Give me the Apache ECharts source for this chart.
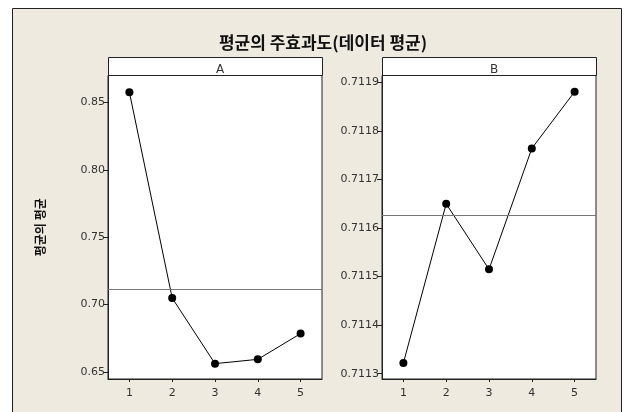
<!DOCTYPE html>
<html>
<head>
<meta charset="utf-8">
<script src="https://cdn.jsdelivr.net/npm/echarts@6/dist/echarts.min.js"></script>
<style>
html,body{margin:0;padding:0;background:#fff;}
#chart{width:626px;height:412px;}
</style>
</head>
<body>
<div id="chart"></div>
<script>
// ---- data ----
var chartTitle = '평균의 주효과도(데이터 평균)';
var yAxisTitle = '평균의 평균';
var panelNames = ['A', 'B'];
var levels = ['1', '2', '3', '4', '5'];
var meansA = [0.8577, 0.7049, 0.6562, 0.6594, 0.6785];
var meansB = [0.711322, 0.711650, 0.711515, 0.711764, 0.711881];
var grandMean = [0.711627];
var ticksA = [0.65, 0.70, 0.75, 0.80, 0.85];
var ticksB = [0.7113, 0.7114, 0.7115, 0.7116, 0.7117, 0.7118, 0.7119];
var rangeA = [0.6448, 0.8701];
var rangeB = [0.711289, 0.7119144];

var chart = echarts.init(document.getElementById('chart'), null, {renderer: 'canvas'});

var labelFont = {color: '#333', fontFamily: 'DejaVu Sans', fontSize: 11};
var frameColor = '#222';

function xAxisFor(i) {
  return {
    type: 'category', gridIndex: i, data: levels, boundaryGap: true,
    axisLine: {show: true, onZero: false, lineStyle: {color: frameColor, width: 1}},
    axisTick: {show: true, alignWithLabel: true, length: 3, lineStyle: {color: frameColor}},
    axisLabel: Object.assign({margin: 9}, labelFont),
    splitLine: {show: false}
  };
}
function yAxisFor(i, range, ticks, digits) {
  return {
    type: 'value', gridIndex: i, min: range[0], max: range[1],
    axisLine: {show: true, onZero: false, lineStyle: {color: frameColor, width: 1}},
    axisTick: {show: true, length: 5, customValues: ticks, lineStyle: {color: frameColor}},
    axisLabel: Object.assign({margin: 3, customValues: ticks, formatter: function (v) { return v.toFixed(digits); }}, labelFont),
    splitLine: {show: false}
  };
}
function seriesFor(i, data) {
  return {
    type: 'line', name: panelNames[i], xAxisIndex: i, yAxisIndex: i, data: data,
    symbol: 'circle', symbolSize: 8,
    itemStyle: {color: '#000'},
    lineStyle: {color: '#000', width: 1},
    animation: false,
    markLine: {
      silent: true, symbol: 'none', precision: 8, label: {show: false},
      lineStyle: {color: '#777', width: 1, type: 'solid'},
      data: [{yAxis: grandMean[0]}]
    }
  };
}

var yA = yAxisFor(0, rangeA, ticksA, 2);
yA.name = yAxisTitle;
yA.nameLocation = 'middle';
yA.nameGap = 62;
yA.nameRotate = 90;
yA.nameTextStyle = {fontFamily: 'Noto Sans CJK KR', fontWeight: 'bold', fontSize: 12, color: '#111'};

var option = {
  backgroundColor: '#fff',
  animation: false,
  title: [
    {text: chartTitle, left: 318, top: 29, textAlign: 'center',
     textStyle: {fontFamily: 'Noto Sans CJK KR', fontWeight: 'bold', fontSize: 17, color: '#111'}},
    {text: panelNames[0], left: 215, top: 59, textAlign: 'center',
     textStyle: {fontFamily: 'DejaVu Sans', fontWeight: 'normal', fontSize: 12, color: '#333'}},
    {text: panelNames[1], left: 489, top: 59, textAlign: 'center',
     textStyle: {fontFamily: 'DejaVu Sans', fontWeight: 'normal', fontSize: 12, color: '#333'}}
  ],
  graphic: [
    {type: 'rect', z: -10, silent: true, shape: {x: 12.5, y: 8.5, width: 609, height: 420},
     style: {fill: '#EEEAE0', stroke: '#222', lineWidth: 1}},
    {type: 'rect', z: -5, silent: true, shape: {x: 108.5, y: 57.5, width: 214, height: 18},
     style: {fill: '#fff', stroke: '#222', lineWidth: 1}},
    {type: 'rect', z: -5, silent: true, shape: {x: 382.5, y: 57.5, width: 214, height: 18},
     style: {fill: '#fff', stroke: '#222', lineWidth: 1}}
  ],
  grid: [
    {left: 108, top: 75.5, width: 214, height: 303.5, show: true, backgroundColor: '#fff', borderColor: frameColor, borderWidth: 1},
    {left: 382, top: 75.5, width: 214, height: 303.5, show: true, backgroundColor: '#fff', borderColor: frameColor, borderWidth: 1}
  ],
  xAxis: [xAxisFor(0), xAxisFor(1)],
  yAxis: [yA, yAxisFor(1, rangeB, ticksB, 4)],
  series: [seriesFor(0, meansA), seriesFor(1, meansB)]
};
chart.setOption(option);
</script>
</body>
</html>
